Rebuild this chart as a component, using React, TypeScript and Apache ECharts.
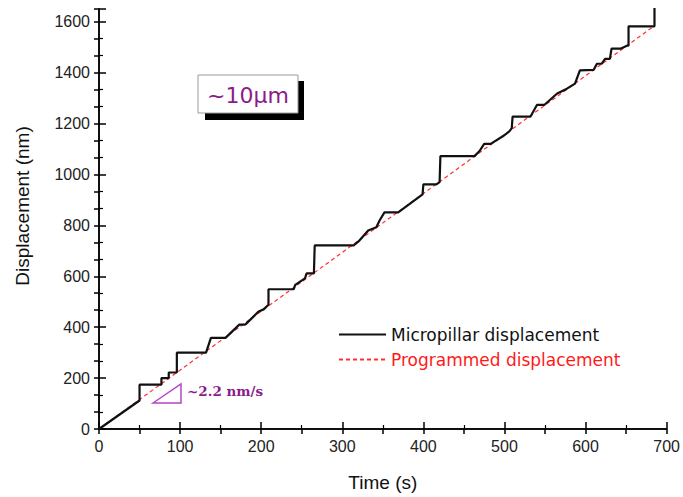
import React, { useEffect, useRef } from "react";
import * as echarts from "echarts";

// Micropillar displacement (step-like response): time (s), displacement (nm)
const stepTimes = [
  0, 50, 50, 77, 77, 86, 86, 96, 96, 132, 138, 156, 173, 180, 181, 197, 203, 209,
  209, 240, 242, 254, 256, 265, 266, 314, 320, 332, 342, 346, 352, 369, 399, 400,
  416, 420, 421, 463, 469, 475, 483, 498, 506, 509, 510, 532, 540, 549, 565, 577,
  587, 593, 610, 614, 620, 624, 630, 632, 643, 651, 653, 653, 685, 685,
];
const stepDisp = [
  0, 112, 174, 174, 200, 200, 222, 222, 300, 300, 358, 358, 410, 410, 412, 462, 470, 488,
  549, 549, 566, 592, 611, 611, 721, 721, 737, 780, 793, 819, 851, 851, 922, 961,
  961, 970, 1072, 1072, 1091, 1120, 1120, 1150, 1169, 1182, 1227, 1227, 1273, 1273, 1318, 1337,
  1357, 1409, 1411, 1435, 1435, 1454, 1454, 1494, 1494, 1506, 1506, 1582, 1582, 1700,
];

// Programmed displacement (constant rate)
const progTimes = [0, 684];
const progDisp = [0, 1582];

const xTicks = { min: 0, max: 700, interval: 100 };
const yTicks = { min: 0, max: 1650, interval: 200 };

const seriesNames = ["Micropillar displacement", "Programmed displacement"];

export default function App() {
  const ref = useRef<HTMLDivElement>(null);

  useEffect(() => {
    if (!ref.current) return;
    const chart = echarts.init(ref.current, undefined, { renderer: "svg" });

    const stepData = stepTimes.map((t, i) => [t, stepDisp[i]]);
    const progData = progTimes.map((t, i) => [t, progDisp[i]]);

    const axisLine = { show: true, lineStyle: { color: "#000", width: 1.5 } };
    const labelStyle = {
      fontFamily: "Liberation Sans, Arial, sans-serif",
      fontSize: 16,
      color: "#222",
      formatter: (v: number) => String(v),
    };
    const nameStyle = {
      fontFamily: "Liberation Sans, Arial, sans-serif",
      fontSize: 19,
      color: "#111",
    };

    chart.setOption({
      animation: false,
      backgroundColor: "#fff",
      grid: { left: 99, right: 13, top: 9, bottom: 65, containLabel: false },
      legend: {
        orient: "vertical",
        left: 333,
        top: 321,
        itemWidth: 47,
        itemHeight: 14,
        itemGap: 8,
        itemStyle: { opacity: 0 },
        textStyle: {
          fontFamily: "DejaVu Sans, sans-serif",
          fontSize: 17,
          lineHeight: 17,
        },
        data: [
          { name: seriesNames[0], textStyle: { color: "#111" } },
          { name: seriesNames[1], textStyle: { color: "#ff1a1a" } },
        ],
      },
      xAxis: [
        {
          type: "value",
          position: "bottom",
          min: xTicks.min,
          max: xTicks.max,
          interval: xTicks.interval,
          name: "Time (s)",
          nameLocation: "middle",
          nameGap: 44,
          nameTextStyle: nameStyle,
          axisLine,
          axisTick: { inside: true, length: 7, lineStyle: { color: "#000", width: 1.5 } },
          minorTick: { show: true, splitNumber: 2, length: 4, lineStyle: { color: "#000", width: 1.2 } },
          axisLabel: { ...labelStyle, margin: 9 },
          splitLine: { show: false },
          minorSplitLine: { show: false },
        },
        {
          type: "value",
          position: "top",
          min: xTicks.min,
          max: xTicks.max,
          interval: xTicks.interval,
          axisLine,
          axisTick: { inside: true, length: 5, lineStyle: { color: "#000", width: 1.5 } },
          minorTick: { show: true, splitNumber: 2, length: 5, lineStyle: { color: "#000", width: 1.5 } },
          axisLabel: { show: false },
          splitLine: { show: false },
        },
      ],
      yAxis: [
        {
          type: "value",
          position: "left",
          min: yTicks.min,
          max: yTicks.max,
          interval: yTicks.interval,
          name: "Displacement (nm)",
          nameLocation: "middle",
          nameGap: 67,
          nameTextStyle: { ...nameStyle, padding: [0, 0, 0, 26] },
          axisLine,
          axisTick: { inside: true, length: 7, lineStyle: { color: "#000", width: 1.5 } },
          minorTick: { show: true, splitNumber: 3, length: 4, lineStyle: { color: "#000", width: 1.2 } },
          axisLabel: { ...labelStyle, margin: 9, showMaxLabel: false },
          splitLine: { show: false },
          minorSplitLine: { show: false },
        },
        {
          type: "value",
          position: "right",
          min: yTicks.min,
          max: yTicks.max,
          interval: yTicks.interval,
          axisLine,
          axisTick: { inside: true, length: 5, lineStyle: { color: "#000", width: 1.5 } },
          minorTick: { show: true, splitNumber: 3, length: 5, lineStyle: { color: "#000", width: 1.5 } },
          axisLabel: { show: false },
          splitLine: { show: false },
        },
      ],
      series: [
        {
          name: seriesNames[1],
          type: "line",
          data: progData,
          symbol: "none",
          clip: true,
          lineStyle: { color: "#ff3030", width: 1.2, type: [4, 3] },
          itemStyle: { color: "#ff3030" },
          z: 2,
        },
        {
          name: seriesNames[0],
          type: "line",
          data: stepData,
          symbol: "none",
          clip: true,
          lineStyle: { color: "#111", width: 2.2 },
          itemStyle: { color: "#111" },
          z: 3,
        },
      ],
      graphic: [
        {
          type: "rect",
          shape: { x: 205, y: 81, width: 99, height: 39 },
          style: { fill: "#000" },
          z: 10,
        },
        {
          type: "rect",
          shape: { x: 198, y: 75, width: 100, height: 38 },
          style: { fill: "#fff", stroke: "#9a9a9a", lineWidth: 1 },
          z: 11,
        },
        {
          type: "text",
          x: 248,
          y: 95,
          style: {
            text: "~10µm",
            fill: "#8B1C8B",
            font: "22px 'DejaVu Sans', sans-serif",
            textAlign: "center",
            textVerticalAlign: "middle",
          },
          z: 12,
        },
        {
          type: "polygon",
          shape: { points: [[153, 403], [181, 384], [181, 403]] },
          style: { fill: "none", stroke: "#B347C8", lineWidth: 1.5 },
          z: 10,
        },
        {
          type: "text",
          x: 187,
          y: 391,
          style: {
            text: "~2.2 nm/s",
            fill: "#8B1C8B",
            font: "bold 13.5px 'DejaVu Serif', serif",
            textAlign: "left",
            textVerticalAlign: "middle",
          },
          z: 10,
        },
      ],
    });

    return () => chart.dispose();
  }, []);

  return (
    <div
      ref={ref}
      style={{ position: "absolute", left: 0, top: 0, width: 683, height: 497 }}
    />
  );
}
